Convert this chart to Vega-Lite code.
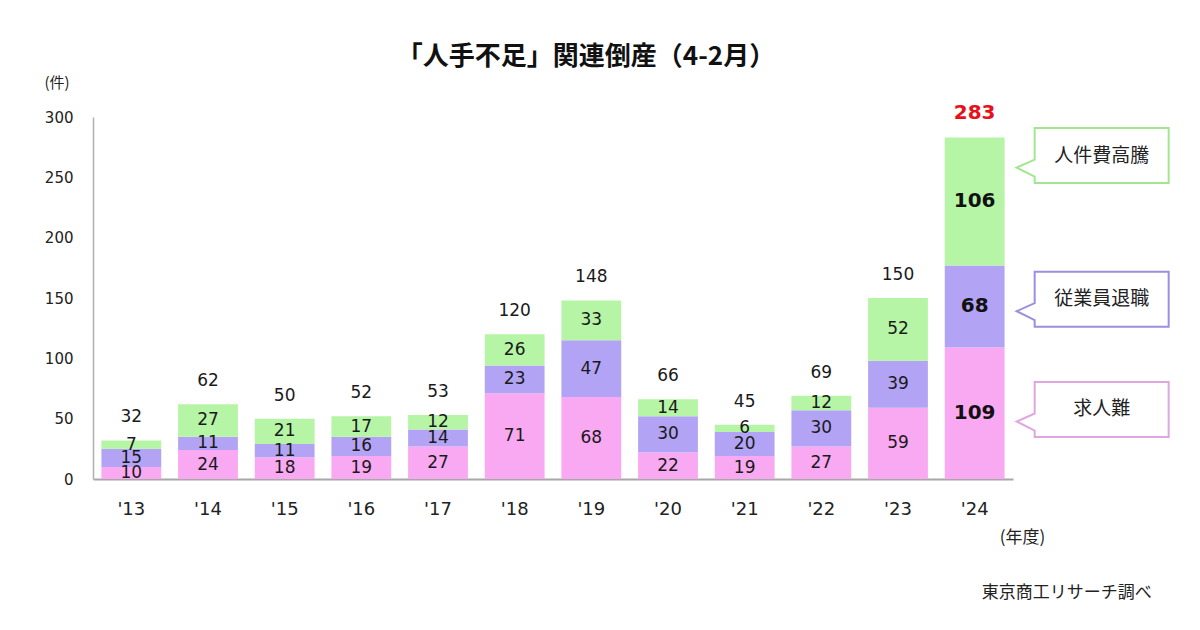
{
  "$schema": "https://vega.github.io/schema/vega-lite/v6.json",
  "width": 920,
  "height": 362,
  "autosize": {"type": "none"},
  "padding": {"left": 93, "top": 117, "right": 187, "bottom": 151},
  "background": "white",
  "config": {"view": {"stroke": null}, "font": "DejaVu Sans"},
  "title": {
    "text": "「人手不足」関連倒産（4-2月）",
    "font": "Noto Sans CJK JP",
    "fontSize": 26,
    "fontWeight": "bold",
    "color": "#111",
    "anchor": "middle",
    "frame": "group",
    "dx": 33,
    "offset": 5
  },
  "datasets": {
    "main": [
      {"year": "'13", "cause": "求人難", "value": 10},
      {"year": "'13", "cause": "従業員退職", "value": 15},
      {"year": "'13", "cause": "人件費高騰", "value": 7},
      {"year": "'14", "cause": "求人難", "value": 24},
      {"year": "'14", "cause": "従業員退職", "value": 11},
      {"year": "'14", "cause": "人件費高騰", "value": 27},
      {"year": "'15", "cause": "求人難", "value": 18},
      {"year": "'15", "cause": "従業員退職", "value": 11},
      {"year": "'15", "cause": "人件費高騰", "value": 21},
      {"year": "'16", "cause": "求人難", "value": 19},
      {"year": "'16", "cause": "従業員退職", "value": 16},
      {"year": "'16", "cause": "人件費高騰", "value": 17},
      {"year": "'17", "cause": "求人難", "value": 27},
      {"year": "'17", "cause": "従業員退職", "value": 14},
      {"year": "'17", "cause": "人件費高騰", "value": 12},
      {"year": "'18", "cause": "求人難", "value": 71},
      {"year": "'18", "cause": "従業員退職", "value": 23},
      {"year": "'18", "cause": "人件費高騰", "value": 26},
      {"year": "'19", "cause": "求人難", "value": 68},
      {"year": "'19", "cause": "従業員退職", "value": 47},
      {"year": "'19", "cause": "人件費高騰", "value": 33},
      {"year": "'20", "cause": "求人難", "value": 22},
      {"year": "'20", "cause": "従業員退職", "value": 30},
      {"year": "'20", "cause": "人件費高騰", "value": 14},
      {"year": "'21", "cause": "求人難", "value": 19},
      {"year": "'21", "cause": "従業員退職", "value": 20},
      {"year": "'21", "cause": "人件費高騰", "value": 6},
      {"year": "'22", "cause": "求人難", "value": 27},
      {"year": "'22", "cause": "従業員退職", "value": 30},
      {"year": "'22", "cause": "人件費高騰", "value": 12},
      {"year": "'23", "cause": "求人難", "value": 59},
      {"year": "'23", "cause": "従業員退職", "value": 39},
      {"year": "'23", "cause": "人件費高騰", "value": 52},
      {"year": "'24", "cause": "求人難", "value": 109},
      {"year": "'24", "cause": "従業員退職", "value": 68},
      {"year": "'24", "cause": "人件費高騰", "value": 106}
    ],
    "callouts": [
      {"year": "'24", "cause": "人件費高騰", "at": 268},
      {"year": "'24", "cause": "従業員退職", "at": 149},
      {"year": "'24", "cause": "求人難", "at": 57.6}
    ],
    "note": [
      {"year": "'24", "text": "東京商工リサーチ調べ", "at": -94.5}
    ]
  },
  "encoding": {
    "x": {
      "field": "year",
      "type": "nominal",
      "sort": null,
      "scale": {"paddingInner": 0.22, "paddingOuter": 0.11},
      "axis": {
        "title": "(年度)",
        "titleFont": "Noto Sans CJK JP",
        "titleFontSize": 17,
        "titleFontWeight": "normal",
        "titleColor": "#222",
        "titleX": 929,
        "titleY": 58,
        "titleAlign": "center",
        "titleBaseline": "middle",
        "labelAngle": 0,
        "labelFontSize": 18,
        "labelColor": "#222",
        "labelPadding": 21,
        "ticks": false,
        "domainColor": "#a8a8a8",
        "domainWidth": 2
      }
    }
  },
  "layer": [
    {
      "data": {"name": "main"},
      "mark": {"type": "bar"},
      "encoding": {
        "y": {
          "field": "value",
          "type": "quantitative",
          "stack": "zero",
          "scale": {"domain": [0, 300]},
          "axis": {
            "values": [0, 50, 100, 150, 200, 250, 300],
            "grid": false,
            "ticks": false,
            "labelFontSize": 15,
            "labelColor": "#222",
            "labelPadding": 20,
            "domainColor": "#b0b0b0",
            "domainWidth": 1.5,
            "title": "(件)",
            "titleFont": "Noto Sans CJK JP",
            "titleFontSize": 15,
            "titleFontWeight": "normal",
            "titleColor": "#222",
            "titleAngle": 0,
            "titleX": -49,
            "titleY": -35,
            "titleAlign": "left",
            "titleBaseline": "middle"
          }
        },
        "color": {
          "field": "cause",
          "type": "nominal",
          "sort": ["求人難", "従業員退職", "人件費高騰"],
          "scale": {
            "domain": ["求人難", "従業員退職", "人件費高騰"],
            "range": ["#f9a9f1", "#b3a3f4", "#b5f5a5"]
          },
          "legend": null
        }
      }
    },
    {
      "data": {"name": "main"},
      "transform": [
        {"calculate": "indexof(['求人難','従業員退職','人件費高騰'], datum.cause)", "as": "ord"},
        {"stack": "value", "groupby": ["year"], "sort": [{"field": "ord"}], "as": ["v0", "v1"]},
        {"calculate": "(datum.v0 + datum.v1) / 2", "as": "mid"},
        {"filter": "datum.year != \"'24\""}
      ],
      "mark": {"type": "text", "fontSize": 17, "color": "#1a1a1a", "baseline": "middle"},
      "encoding": {
        "y": {"field": "mid", "type": "quantitative"},
        "text": {"field": "value", "type": "quantitative"}
      }
    },
    {
      "data": {"name": "main"},
      "transform": [
        {"calculate": "indexof(['求人難','従業員退職','人件費高騰'], datum.cause)", "as": "ord"},
        {"stack": "value", "groupby": ["year"], "sort": [{"field": "ord"}], "as": ["v0", "v1"]},
        {"calculate": "(datum.v0 + datum.v1) / 2", "as": "mid"},
        {"filter": "datum.year == \"'24\""}
      ],
      "mark": {"type": "text", "fontSize": 20, "fontWeight": "bold", "color": "#111", "baseline": "middle"},
      "encoding": {
        "y": {"field": "mid", "type": "quantitative"},
        "text": {"field": "value", "type": "quantitative"}
      }
    },
    {
      "data": {"name": "main"},
      "transform": [
        {"aggregate": [{"op": "sum", "field": "value", "as": "total"}], "groupby": ["year"]},
        {"filter": "datum.year != \"'24\""}
      ],
      "mark": {"type": "text", "fontSize": 17, "color": "#1a1a1a", "baseline": "middle", "dy": -23},
      "encoding": {
        "y": {"field": "total", "type": "quantitative"},
        "text": {"field": "total", "type": "quantitative"}
      }
    },
    {
      "data": {"name": "main"},
      "transform": [
        {"aggregate": [{"op": "sum", "field": "value", "as": "total"}], "groupby": ["year"]},
        {"filter": "datum.year == \"'24\""}
      ],
      "mark": {"type": "text", "fontSize": 20, "fontWeight": "bold", "color": "#e8101a", "baseline": "middle", "dy": -25},
      "encoding": {
        "y": {"field": "total", "type": "quantitative"},
        "text": {"field": "total", "type": "quantitative"}
      }
    },
    {
      "data": {"name": "callouts"},
      "mark": {
        "type": "point",
        "filled": true,
        "fill": "white",
        "opacity": 1,
        "strokeWidth": 2,
        "size": 10000,
        "shape": "M1.2,-0.55L3.88,-0.55L3.88,0.55L1.2,0.55L1.2,0.42L0.84,0.24L1.2,0.08Z"
      },
      "encoding": {
        "y": {"field": "at", "type": "quantitative"},
        "stroke": {
          "field": "cause",
          "type": "nominal",
          "scale": {
            "domain": ["求人難", "従業員退職", "人件費高騰"],
            "range": ["#e0a6e0", "#9d8ee2", "#a3e690"]
          },
          "legend": null
        }
      }
    },
    {
      "data": {"name": "callouts"},
      "mark": {"type": "text", "font": "Noto Sans CJK JP", "fontSize": 19, "color": "#222", "baseline": "middle", "dx": 127},
      "encoding": {
        "y": {"field": "at", "type": "quantitative"},
        "text": {"field": "cause", "type": "nominal"}
      }
    },
    {
      "data": {"name": "note"},
      "mark": {"type": "text", "font": "Noto Sans CJK JP", "fontSize": 17, "color": "#222", "baseline": "middle", "dx": 92},
      "encoding": {
        "y": {"field": "at", "type": "quantitative"},
        "text": {"field": "text", "type": "nominal"}
      }
    }
  ]
}
